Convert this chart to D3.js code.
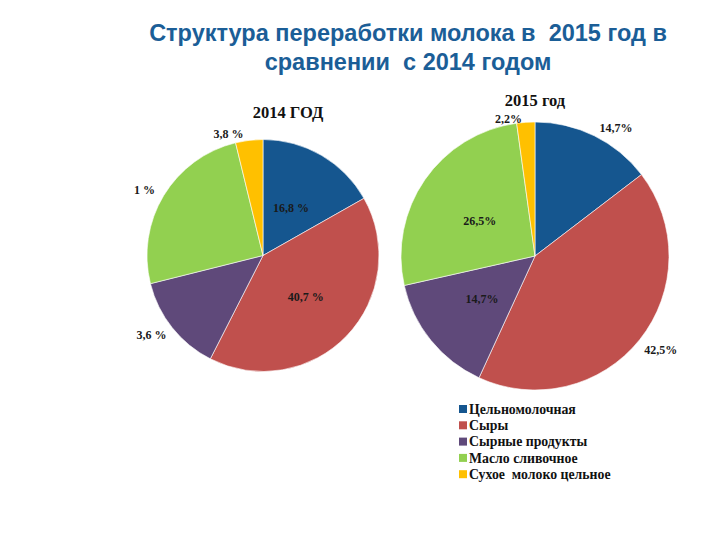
<!DOCTYPE html>
<html>
<head>
<meta charset="utf-8">
<script src="https://cdn.jsdelivr.net/npm/d3@7"></script>
<style>
  body { margin: 0; background: #fff; }
  svg { display: block; }
  text { white-space: pre; }
</style>
</head>
<body>
<script>
//chart data
var categories = ["Цельномолочная", "Сыры", "Сырные продукты", "Масло сливочное", "Сухое  молоко цельное"];
var values2014 = [16.8, 40.7, 13.6, 25.1, 3.8];
var values2015 = [14.7, 42.5, 14.7, 26.5, 2.2];
//labels exactly as printed on the slide
var labels2014 = ["16,8 %", "40,7 %", "3,6 %", "1 %", "3,8 %"];
var labels2015 = ["14,7%", "42,5%", "14,7%", "26,5%", "2,2%"];
var titleLines = ["Структура переработки молока в  2015 год в", "сравнении  с 2014 годом"];

var colors = ["#15568f", "#c0504d", "#5f497a", "#92d050", "#ffc000"];

var width = 720, height = 540;

var svg = d3.select("body").append("svg")
    .attr("width", width)
    .attr("height", height);

//main title
svg.selectAll(".title")
    .data(titleLines)
    .enter()
    .append("text")
    .attr("class", "title")
    .attr("x", 408)
    .attr("y", function(d, i){ return 41 + i * 29; })
    .attr("text-anchor", "middle")
    .style("font-family", "'Liberation Sans', Arial, sans-serif")
    .style("font-weight", "bold")
    .style("font-size", "23.5px")
    .style("fill", "#1b5e97")
    .text(function(d){ return d; });

var pie = d3.pie().sort(null).value(function(d){ return d; });

//label placement per slice: radius factor and small angle nudge (deg)
var place2014 = [{k: 0.48, a: 0}, {k: 0.51, a: 0}, {k: 1.18, a: 3}, {k: 1.17, a: -2}, {k: 1.09, a: -9}];
var place2015 = [{k: 1.13, a: 6}, {k: 1.17, a: -2}, {k: 0.51, a: 0}, {k: 0.49, a: -2}, {k: 1.04, a: -7}];

function drawPie(cx, cy, r, values, labels, place, title, titleX, titleY){
    var g = svg.append("g").attr("transform", "translate(" + cx + "," + cy + ")");
    var arc = d3.arc().innerRadius(0).outerRadius(r);
    var arcs = pie(values);

    g.selectAll(".slice")
        .data(arcs)
        .enter()
        .append("path")
        .attr("class", "slice")
        .attr("d", arc)
        .style("fill", function(d, i){ return colors[i]; })
        .style("stroke", "#fff")
        .style("stroke-width", 0.6);

    g.selectAll(".lbl")
        .data(arcs)
        .enter()
        .append("text")
        .attr("class", "lbl")
        .attr("transform", function(d, i){
            var ang = (d.startAngle + d.endAngle) / 2 + place[i].a * Math.PI / 180;
            var rr = r * place[i].k;
            return "translate(" + (Math.sin(ang) * rr) + "," + (-Math.cos(ang) * rr) + ")";
        })
        .attr("dy", "0.35em")
        .attr("text-anchor", "middle")
        .style("font-family", "'Liberation Serif', 'Times New Roman', serif")
        .style("font-weight", "bold")
        .style("font-size", "12px")
        .style("fill", "#1a1a1a")
        .text(function(d, i){ return labels[i]; });

    svg.append("text")
        .attr("x", titleX)
        .attr("y", titleY)
        .attr("text-anchor", "middle")
        .style("font-family", "'Liberation Serif', 'Times New Roman', serif")
        .style("font-weight", "bold")
        .style("font-size", "16.5px")
        .style("fill", "#111")
        .text(title);
}

drawPie(263, 255.5, 116, values2014, labels2014, place2014, "2014 ГОД", 288, 118);
drawPie(535, 256, 134, values2015, labels2015, place2015, "2015 год", 535, 106);

//legend
var legend = svg.selectAll(".legend")
    .data(categories)
    .enter()
    .append("g")
    .attr("class", "legend")
    .attr("transform", function(d, i){ return "translate(459," + (409 + i * 16.3) + ")"; });

legend.append("rect")
    .attr("x", 0)
    .attr("y", -4)
    .attr("width", 8)
    .attr("height", 8)
    .style("fill", function(d, i){ return colors[i]; });

legend.append("text")
    .attr("x", 10)
    .attr("y", 0)
    .attr("dy", "0.35em")
    .style("font-family", "'Liberation Serif', 'Times New Roman', serif")
    .style("font-weight", "bold")
    .style("font-size", "13.8px")
    .style("fill", "#111")
    .text(function(d){ return d; });
</script>
</body>
</html>
